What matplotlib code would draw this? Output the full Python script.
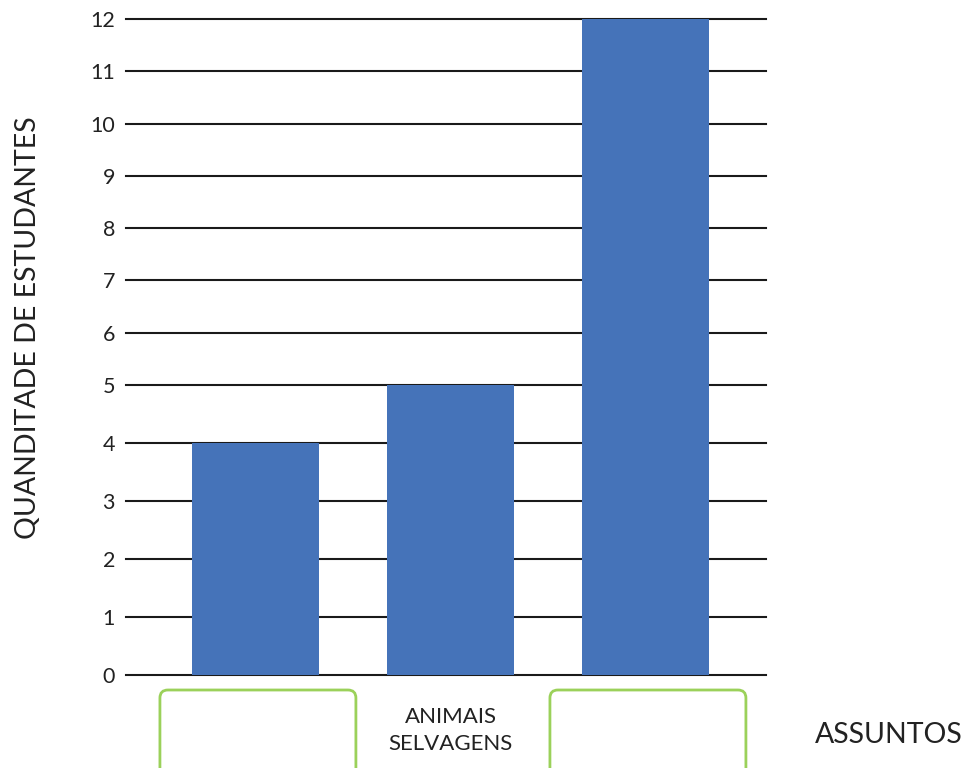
import matplotlib
matplotlib.use("Agg")
import matplotlib.pyplot as plt
import numpy as np
from matplotlib.patches import FancyBboxPatch
from matplotlib.transforms import IdentityTransform

plt.rcParams['font.family'] = ['Lato', 'DejaVu Sans']

categories = ["", "ANIMAIS\nSELVAGENS", ""]
values = [4, 5, 12]
yticks = list(range(0, 13))
ylabel = "QUANDITADE DE ESTUDANTES"
xlabel = "ASSUNTOS"

BAR_COLOR = "#4573B9"
BOX_COLOR = "#9BD15A"

# piecewise linear y scale (lower units drawn taller, as in the reference)
K = 58.0 / 52.3
def fwd(v):
    v = np.asarray(v, dtype=float)
    return np.where(v <= 5, v * K, 5 * K + (v - 5))
def inv(u):
    u = np.asarray(u, dtype=float)
    return np.where(u <= 5 * K, u / K, (u - 5 * K) + 5)

W, H = 967, 768
fig = plt.figure(figsize=(W / 100, H / 100), dpi=100)
ax = fig.add_axes([126 / W, (H - 675) / H, 640 / W, 656 / H])
ax.set_yscale('function', functions=(fwd, inv))

x = np.arange(len(categories))
ax.bar(x, values, width=0.65, color=BAR_COLOR, zorder=3)

for t in yticks:
    ax.axhline(t, color="#1a1a1a", lw=1.5, zorder=1, clip_on=False)

ax.set_xlim(-0.664, 2.618)
ax.set_ylim(0, 12)
ax.set_yticks(yticks)
ax.set_yticklabels([str(t) for t in yticks], fontsize=15.5, color="#222222")
ax.set_xticks(x)
ax.set_xticklabels(categories, fontsize=16, color="#222222", linespacing=1.45, va="top")
ax.tick_params(axis='y', length=0, pad=8)
ax.tick_params(axis='x', length=0, pad=23)
for s in ax.spines.values():
    s.set_visible(False)

fig.text(28 / W, (H - 328) / H, ylabel, rotation=90, fontsize=20.5,
         color="#222222", ha="center", va="center")
fig.text(815 / W, (H - 735) / H, xlabel, fontsize=20.5,
         color="#222222", ha="left", va="center")

# empty answer boxes under first and third categories
fig.canvas.draw()
for i in (0, 2):
    x0 = ax.transData.transform((x[i] - 0.49, 0))[0]
    x1 = ax.transData.transform((x[i] + 0.515, 0))[0]
    box = FancyBboxPatch((x0, -20), x1 - x0, (H - 690) + 20,
                         boxstyle="round,pad=0,rounding_size=8",
                         transform=IdentityTransform(), fill=False,
                         edgecolor=BOX_COLOR, lw=2.0, clip_on=False)
    fig.add_artist(box)

fig.savefig("out.png", dpi=100)
